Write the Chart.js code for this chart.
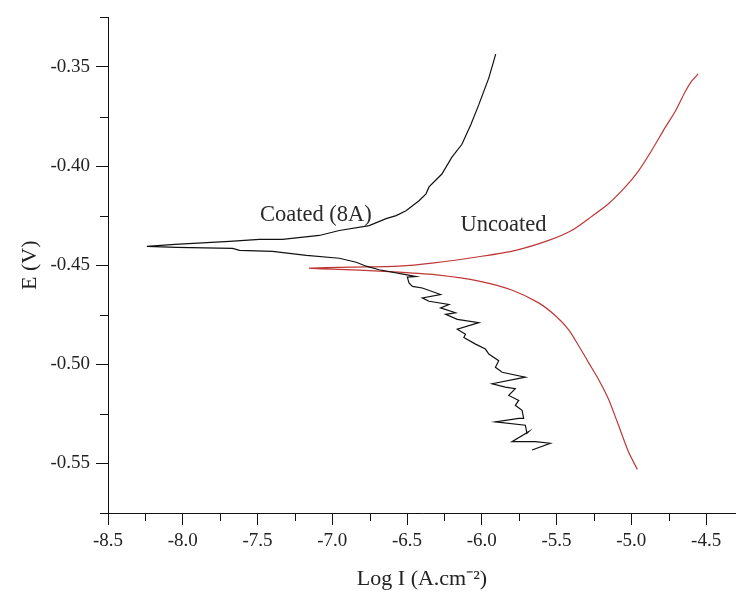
<!DOCTYPE html>
<html>
<head>
<meta charset="utf-8">
<script src="https://cdn.jsdelivr.net/npm/chart.js@4/dist/chart.umd.min.js"></script>
<style>
html,body{margin:0;padding:0;background:#fff;}
#wrap{width:736px;height:593px;}
</style>
</head>
<body>
<div id="wrap"><canvas id="c" width="736" height="593"></canvas></div>
<script>
// ---- data ----
const coatedLogI = [-5.664,-5.542,-5.642,-5.798,-5.687,-5.698,-5.709,-5.909,-5.753,-5.72,-5.731,-5.776,-5.753,-5.82,-5.776,-5.842,-5.931,-5.709,-5.864,-5.909,-5.887,-5.953,-5.976,-6.042,-6.12,-6.109,-6.164,-6.02,-6.164,-6.242,-6.176,-6.276,-6.22,-6.353,-6.398,-6.276,-6.398,-6.464,-6.487,-6.498,-6.442,-6.509,-6.687,-6.773,-6.84,-6.953,-7.173,-7.4,-7.62,-7.667,-8.04,-8.24,-8.053,-7.687,-7.487,-7.333,-7.087,-6.953,-6.753,-6.64,-6.573,-6.507,-6.42,-6.373,-6.353,-6.267,-6.2,-6.133,-6.073,-6.02,-5.953,-5.907];
const coatedE = [-0.5432,-0.5398,-0.539,-0.539,-0.534,-0.5348,-0.5307,-0.529,-0.5273,-0.5273,-0.5232,-0.5207,-0.5182,-0.5157,-0.5123,-0.5115,-0.5098,-0.5065,-0.504,-0.5015,-0.4982,-0.4948,-0.4923,-0.4898,-0.4865,-0.4848,-0.4823,-0.479,-0.4773,-0.4748,-0.474,-0.4715,-0.4698,-0.4682,-0.4665,-0.4648,-0.4615,-0.4607,-0.459,-0.456,-0.4557,-0.4548,-0.4523,-0.4505,-0.4485,-0.4465,-0.445,-0.443,-0.4425,-0.4415,-0.441,-0.4405,-0.4395,-0.438,-0.437,-0.437,-0.435,-0.4325,-0.43,-0.4265,-0.425,-0.4225,-0.4175,-0.414,-0.4105,-0.404,-0.3955,-0.389,-0.379,-0.369,-0.3555,-0.3435];
const uncoatedLogI = [-4.96,-5.02,-5.087,-5.153,-5.22,-5.287,-5.353,-5.42,-5.507,-5.62,-5.8,-6.02,-6.287,-6.553,-6.82,-7.153,-6.887,-6.553,-6.333,-6.0,-5.773,-5.553,-5.4,-5.267,-5.153,-5.04,-4.953,-4.867,-4.773,-4.707,-4.64,-4.6,-4.553];
const uncoatedE = [-0.553,-0.544,-0.5305,-0.5175,-0.5075,-0.499,-0.4905,-0.4825,-0.4755,-0.469,-0.4625,-0.458,-0.455,-0.4535,-0.4525,-0.4515,-0.451,-0.4505,-0.449,-0.4455,-0.4425,-0.4375,-0.4325,-0.4255,-0.419,-0.4105,-0.4025,-0.3925,-0.3805,-0.3725,-0.3625,-0.3575,-0.3535];
const xMajorTicks = [-8.5,-8.0,-7.5,-7.0,-6.5,-6.0,-5.5,-5.0,-4.5];
const yMajorTicks = [-0.55,-0.50,-0.45,-0.40,-0.35];
const seriesNames = ["Coated (8A)", "Uncoated"];
const labelLogI = [-7.11, -5.855];
const labelE = [-0.4249, -0.4296];

const toPts = (xs, ys) => xs.map((x, i) => ({x: x, y: ys[i]}));
const isMajor = (v, arr) => arr.some(m => Math.abs(m - v) < 1e-6);
const FONT = "'Liberation Serif', 'Times New Roman', serif";

const labelPlugin = {
  id: 'curveLabels',
  afterDatasetsDraw(chart) {
    const {ctx, scales} = chart;
    ctx.save();
    ctx.font = "22.5px " + FONT;
    ctx.fillStyle = "#2a2a2a";
    ctx.textAlign = "center";
    ctx.textBaseline = "middle";
    seriesNames.forEach((t, i) => {
      ctx.fillText(t, scales.x.getPixelForValue(labelLogI[i]), scales.y.getPixelForValue(labelE[i]));
    });
    ctx.restore();
  }
};

const minorTickPlugin = {
  id: 'minorTicks',
  afterDraw(chart) {
    const {ctx, scales} = chart;
    ctx.save();
    ctx.strokeStyle = "#111";
    ctx.lineWidth = 1;
    scales.x.ticks.forEach(t => {
      if (!isMajor(t.value, xMajorTicks)) {
        const px = Math.round(scales.x.getPixelForValue(t.value)) + 0.5;
        ctx.beginPath(); ctx.moveTo(px, scales.x.top); ctx.lineTo(px, scales.x.top + 8); ctx.stroke();
      }
    });
    scales.y.ticks.forEach(t => {
      if (!isMajor(t.value, yMajorTicks)) {
        const py = Math.round(scales.y.getPixelForValue(t.value)) + 0.5;
        ctx.beginPath(); ctx.moveTo(scales.y.right, py); ctx.lineTo(scales.y.right - 8, py); ctx.stroke();
      }
    });
    ctx.restore();
  }
};

new Chart(document.getElementById('c'), {
  type: 'scatter',
  data: {
    datasets: [
      {label: seriesNames[0], data: toPts(coatedLogI, coatedE), showLine: true, borderColor: '#111', borderWidth: 1.2, pointRadius: 0, tension: 0, fill: false},
      {label: seriesNames[1], data: toPts(uncoatedLogI, uncoatedE), showLine: true, borderColor: '#bf3636', borderWidth: 1.2, pointRadius: 0, tension: 0.25, fill: false}
    ]
  },
  options: {
    responsive: false,
    animation: false,
    layout: {padding: {top: 13, right: 0, left: 0, bottom: 0}},
    plugins: {legend: {display: false}, tooltip: {enabled: false}},
    scales: {
      x: {
        type: 'linear', min: -8.5, max: -4.3,
        afterFit(s) { s.height = 80; },
        border: {display: true, color: '#111', width: 1},
        grid: {drawOnChartArea: false, tickLength: 12, tickColor: c => isMajor(c.tick.value, xMajorTicks) ? '#111' : 'rgba(0,0,0,0)'},
        ticks: {stepSize: 0.25, includeBounds: false, autoSkip: false, maxRotation: 0, padding: 5, color: '#222', font: {family: FONT, size: 19},
          callback: v => isMajor(v, xMajorTicks) ? v.toFixed(1) : ''},
        title: {display: true, text: 'Log I (A.cm⁻²)', color: '#222', font: {family: FONT, size: 22}, padding: {top: 0, bottom: 1}}
      },
      y: {
        type: 'linear', min: -0.575, max: -0.325,
        afterFit(s) { s.width = 108; },
        border: {display: true, color: '#111', width: 1},
        grid: {drawOnChartArea: false, tickLength: 12, tickColor: c => isMajor(c.tick.value, yMajorTicks) ? '#111' : 'rgba(0,0,0,0)'},
        ticks: {stepSize: 0.025, includeBounds: false, autoSkip: false, padding: 6, color: '#222', font: {family: FONT, size: 19},
          callback: v => isMajor(v, yMajorTicks) ? v.toFixed(2) : ''},
        title: {display: true, text: 'E (V)', color: '#222', font: {family: FONT, size: 22}, padding: {top: 17, bottom: 0}}
      }
    }
  },
  plugins: [labelPlugin, minorTickPlugin]
});
</script>
</body>
</html>
